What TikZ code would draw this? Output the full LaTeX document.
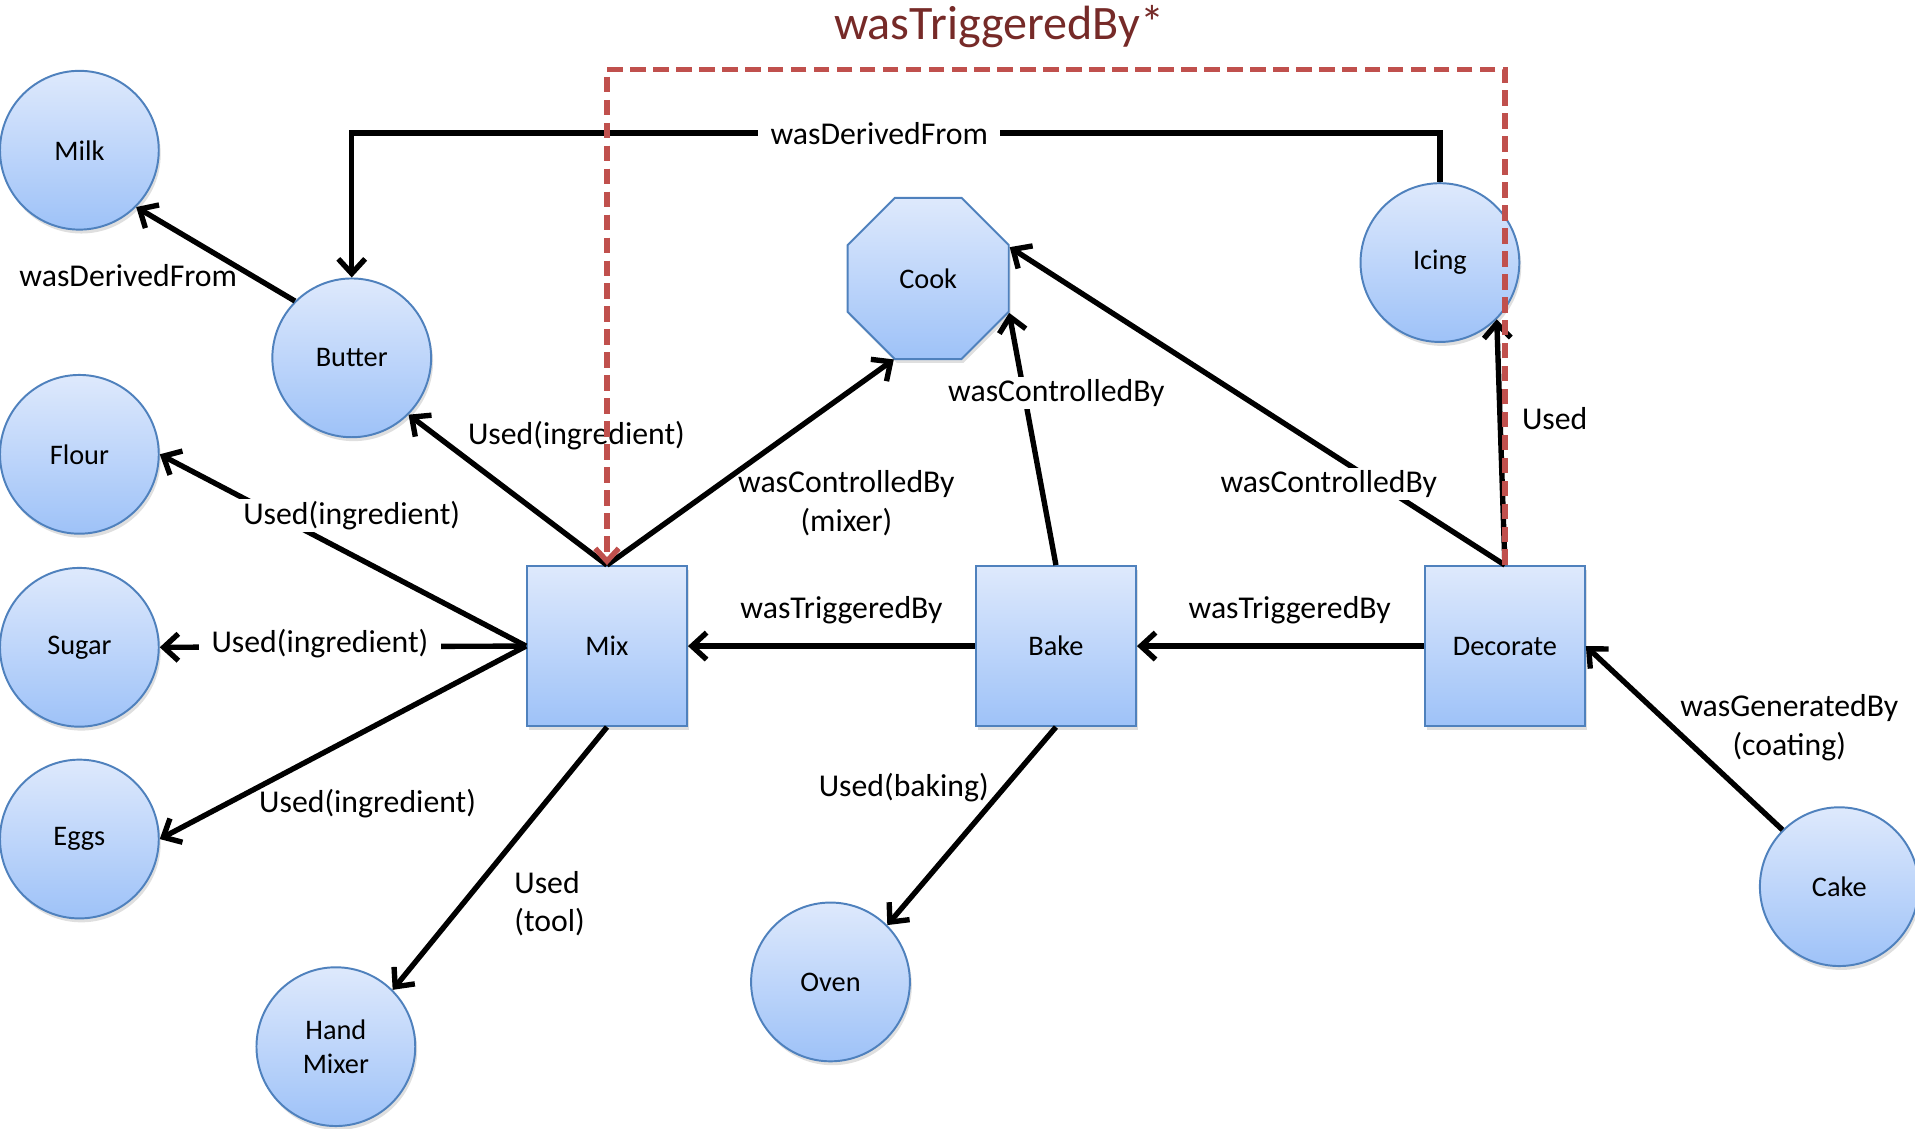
\documentclass[tikz,border=0pt]{standalone}
\usepackage{fontspec}
\setmainfont{Carlito}
\usetikzlibrary{positioning,shadows,shapes.geometric,arrows.meta}

\begin{document}
\begin{tikzpicture}[x=0.25mm,y=-0.25mm]
  % some colors
  \definecolor{border}{RGB}{79,129,189}
  \definecolor{topfill}{RGB}{222,233,252}
  \definecolor{botfill}{RGB}{158,194,248}
  \definecolor{trig}{RGB}{192,80,77}
  \definecolor{headline}{RGB}{118,42,40}
  % some styles
  \tikzset{
    thing/.style={
      draw=border,
      line width=.4mm,
      inner sep=0mm,
      top color=topfill,
      bottom color=botfill,
      font=\fontsize{16.5}{19.5}\selectfont,
      align=center,
      drop shadow={opacity=.25,shadow xshift=.4mm,shadow yshift=-.8mm},
    },
    entity/.style={thing,circle,minimum size=32.5mm},
    activity/.style={thing,rectangle,minimum size=32.75mm},
    agent/.style={thing,regular polygon,regular polygon sides=8,minimum size=35.7mm},
    link/.style={-{Straight Barb[length=3mm,width=5.5mm]},line width=1.1mm},
    chain/.style={-{Straight Barb[length=2.6mm,width=4.8mm]},trig,line width=1.1mm,
      dash pattern=on 3.2mm off 1.5mm},
    lbl/.style={font=\fontsize{18.5}{22.5}\selectfont,inner sep=.5mm,align=center},
    cover/.style={lbl,fill=white,inner xsep=2.5mm},
  }
  \useasboundingbox (0,0) rectangle (1568,924);
  % ingredients on the left
  \foreach \name/\txt/\ypos in {milk/Milk/123,flour/Flour/372,sugar/Sugar/530,eggs/Eggs/687}
    \node[entity] (\name) at (65,\ypos) {\txt};
  \node[entity] (butter) at (288,293) {Butter};
  \node[entity] (hand) at (275,857) {Hand\\Mixer};
  \node[entity] (oven) at (680,804) {Oven};
  \node[entity] (icing) at (1179,215) {Icing};
  \node[entity] (cake) at (1506,726) {Cake};
  \node[agent] (cook) at (760,228) {Cook};
  % the three steps
  \node[activity] (mix) at (497,529) {Mix};
  \node[activity,right=58.75mm of mix] (bake) {Bake};
  \node[activity,right=58.75mm of bake] (decorate) {Decorate};
  % derivations
  \coordinate (dtop) at (720,109);
  \draw[link] (icing.north) |- (dtop) -| (butter.north);
  \draw[link] (butter.135) -- (milk.-45);
  % what was used
  \draw[link] (mix.north) -- (butter.-45);
  \foreach \name in {flour,sugar,eggs}
    \draw[link] (mix.west) -- (\name.east);
  \draw[link] (mix.south) -- (hand.45);
  \draw[link] (bake.south) -- (oven.45);
  \draw[link] (decorate.north) -- (icing.-45);
  \draw[link] (cake.135) -- (decorate.east);
  % control and triggers
  \draw[link] (mix.north) -- (cook.-113);
  \draw[link] (bake.north) -- (cook.-23);
  \draw[link] (decorate.north) -- (cook.21);
  \draw[link] (bake.west) -- (mix.east);
  \draw[link] (decorate.west) -- (bake.east);
  % labels
  \node[cover] (l-deriv) at (dtop) {wasDerivedFrom};
  \node[lbl] (l-milk) at (105,226) {wasDerivedFrom};
  \node[lbl] (l-butter) at (472,357) {Used(ingredient)};
  \node[cover] (l-flour) at (288,422) {Used(ingredient)};
  \node[cover] (l-sugar) at (262,527) {Used(ingredient)};
  \node[lbl] (l-eggs) at (301,658) {Used(ingredient)};
  \node[lbl,align=left] (l-hand) at (450,740) {Used\\(tool)};
  \node[lbl] (l-mixer) at (693,412) {wasControlledBy\\(mixer)};
  \node[lbl] (l-bakemix) at (689,500) {wasTriggeredBy};
  \node[cover] (l-bakecook) at (865,322) {wasControlledBy};
  \node[lbl] (l-oven) at (740,645) {Used(baking)};
  \node[lbl] (l-decbake) at (1056,500) {wasTriggeredBy};
  \node[cover] (l-deccook) at (1088,396) {wasControlledBy};
  \node[lbl] (l-icing) at (1273,343) {Used};
  \node[lbl] (l-cake) at (1465,596) {wasGeneratedBy\\(coating)};
  % the transitive trigger on top
  \coordinate (ttop) at (865,57);
  \draw[chain] (decorate.north) |- (ttop) -| (mix.north);
  \node[font=\fontsize{28}{32}\selectfont,text=headline] (title) at (818,22) {wasTriggeredBy*};
\end{tikzpicture}
\end{document}
